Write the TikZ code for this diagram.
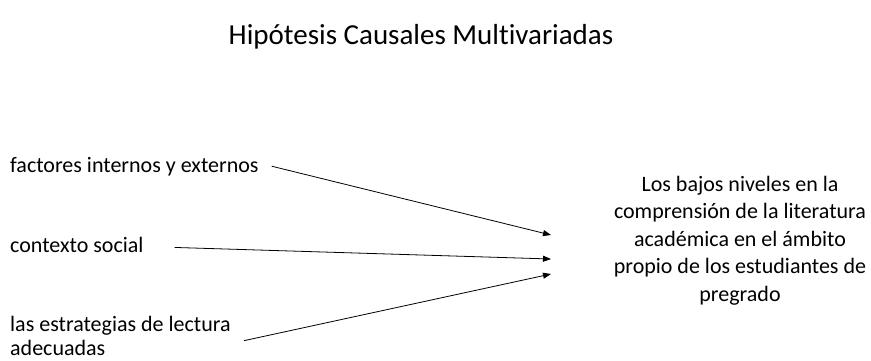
\documentclass[tikz,border=0pt]{standalone}
\usepackage{fontspec}
\setmainfont{Carlito}[Ligatures=NoCommon]
\usetikzlibrary{%
    arrows.meta,
    positioning
}
\tikzset{headarrow/.style = {-{Triangle[length=8pt,width=6pt]}, line width=0.8pt}}
\tikzset{cause/.style = {inner sep=0pt, anchor=base west, font=\fontsize{22}{23.5}\selectfont, align=left}}

\begin{document}
\begin{tikzpicture}[x=1pt,y=-1pt]
    \useasboundingbox (0,0) rectangle (871,360);
    \node[inner sep=0pt, anchor=base, font=\fontsize{29}{34}\selectfont] (title) at (421,44) {Hipótesis Causales Multivariadas};

    \node[cause] (c-1) at (10,172) {factores internos y externos};
    \node[cause] (c-2) at (10,252) {contexto social};
    \node[cause] (c-3) at (10,355) {las estrategias de lectura\\adecuadas};

    \node[inner sep=0pt, anchor=north, align=center, font=\fontsize{22}{27.5}\selectfont] (effect) at (740,176)
        {Los bajos niveles en la\\comprensión de la literatura\\académica en el ámbito\\propio de los estudiantes de\\pregrado};

    \foreach \n/\y in {1/235, 2/259, 3/274}
        \coordinate (t-\n) at (551,\y);

    \draw[headarrow] ([xshift=13pt]c-1.east) -- (t-1);
    \draw[headarrow] ([xshift=31pt,yshift=-3pt]c-2.east) -- (t-2);
    \draw[headarrow] ([xshift=13pt,yshift=-5pt]c-3.east) -- (t-3);
\end{tikzpicture}
\end{document}
